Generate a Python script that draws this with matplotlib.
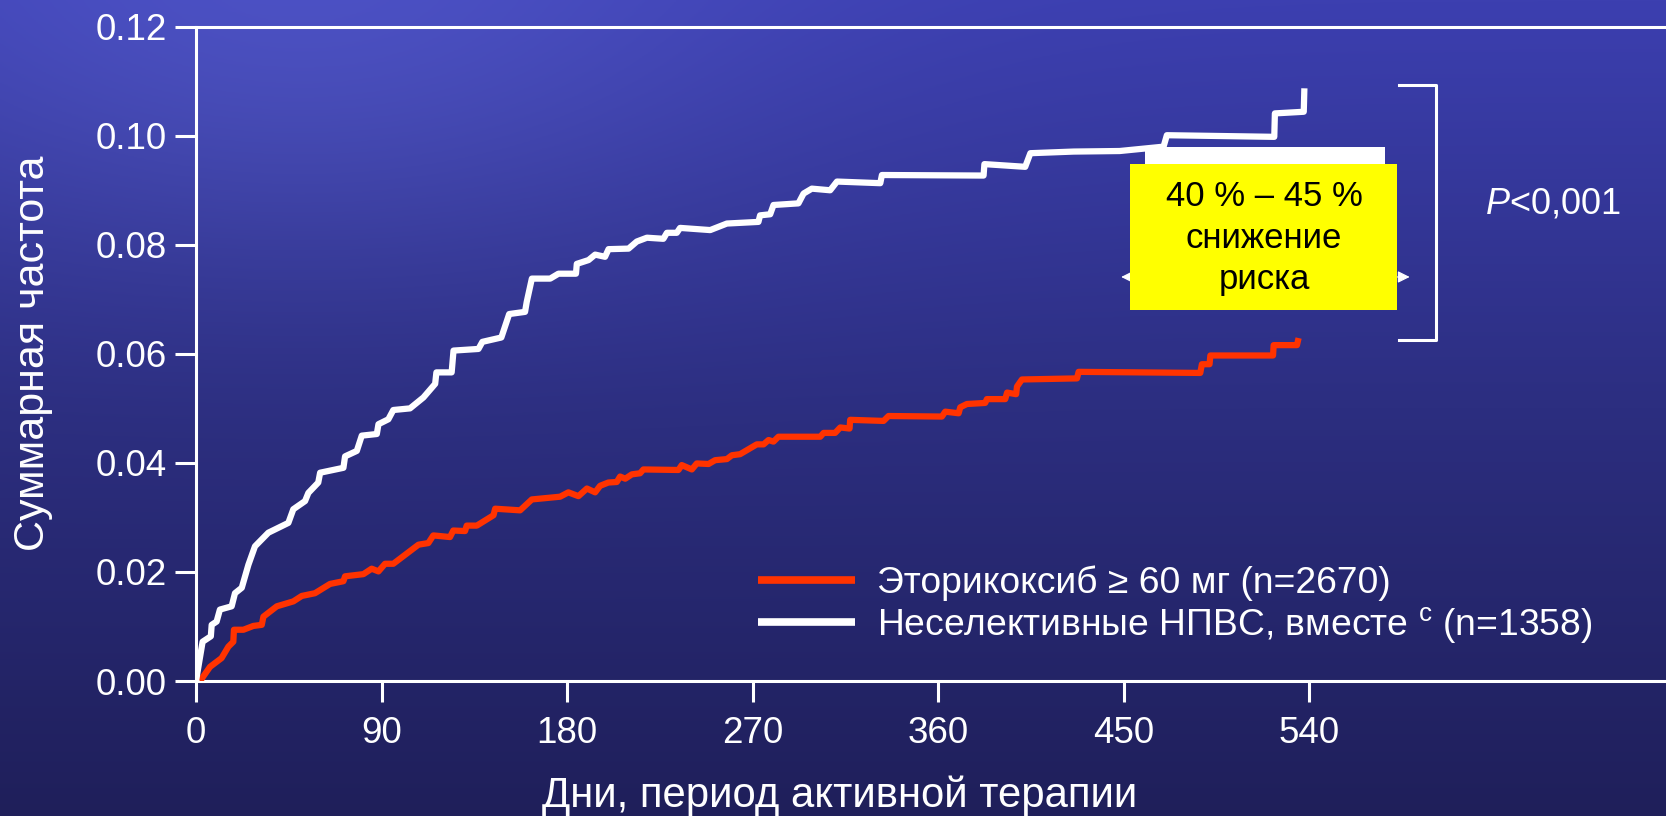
import matplotlib
matplotlib.use("Agg")
import matplotlib.pyplot as plt
import numpy as np
from matplotlib.patches import Rectangle

plt.rcParams.update({
    "font.family": ["Liberation Sans", "DejaVu Sans"],
    "mathtext.fontset": "custom",
    "mathtext.rm": "Liberation Sans",
    "mathtext.it": "Liberation Sans:italic",
    "text.color": "white",
})

# кумулятивная частота событий по дням
white_days = [0, 3.2, 7.2, 7.6, 10.0, 11.6, 17.3, 18.9, 22.2, 25.4, 28.6, 35.1, 44.8,
              47.2, 52.9, 54.5, 59.3, 60.2, 71.5, 72.3, 78.0, 80.4, 87.7, 88.5, 93.3,
              95.7, 103.8, 110.3, 116.0, 116.6, 124.0, 124.9, 137.0, 138.9, 148.1,
              151.9, 159.6, 160.4, 162.9, 171.8, 175.8, 184.3, 184.7, 190.4, 193.6,
              198.4, 200.1, 209.8, 213.8, 218.7, 226.7, 228.4, 233.2, 234.8, 249.4,
              257.5, 272.8, 273.6, 278.5, 280.1, 292.2, 294.7, 298.7, 307.6, 310.9,
              331.9, 332.7, 382.0, 382.4, 402.2, 404.7, 425.7, 448.0, 469.3, 470.9,
              523.0, 523.3, 537.3, 537.6]
white_vals = [0.0, 0.0072, 0.0082, 0.0103, 0.0109, 0.0131, 0.0137, 0.0161, 0.0171,
              0.0213, 0.0247, 0.0272, 0.0290, 0.0315, 0.0330, 0.0345, 0.0364, 0.0382,
              0.0391, 0.0412, 0.0422, 0.0450, 0.0453, 0.0471, 0.0480, 0.0497, 0.0500,
              0.0520, 0.0545, 0.0566, 0.0566, 0.0606, 0.0609, 0.0622, 0.0630, 0.0673,
              0.0677, 0.0695, 0.0738, 0.0738, 0.0747, 0.0747, 0.0765, 0.0772, 0.0782,
              0.0778, 0.0792, 0.0793, 0.0806, 0.0813, 0.0811, 0.0822, 0.0822, 0.0831,
              0.0827, 0.0839, 0.0842, 0.0854, 0.0856, 0.0873, 0.0876, 0.0894, 0.0903,
              0.0900, 0.0916, 0.0913, 0.0928, 0.0927, 0.0948, 0.0943, 0.0968, 0.0971,
              0.0972, 0.0980, 0.1001, 0.0998, 0.1041, 0.1044, 0.1087]

red_days = [2.0, 6.8, 12.4, 15.7, 18.1, 18.4, 23.0, 27.8, 31.9, 32.7, 39.2, 47.2,
            51.3, 57.7, 65.0, 71.5, 72.3, 81.2, 85.2, 88.5, 91.7, 95.7, 107.9, 112.7,
            115.1, 123.2, 124.8, 130.5, 131.3, 136.2, 144.3, 145.1, 157.2, 162.9,
            176.6, 180.6, 185.5, 189.6, 193.6, 196.0, 200.0, 204.1, 205.7, 208.2,
            211.4, 215.4, 217.0, 234.0, 235.6, 240.5, 242.9, 248.6, 251.8, 257.5,
            259.9, 263.9, 272.0, 275.3, 277.7, 280.1, 282.5, 302.8, 304.4, 310.0,
            312.5, 317.0, 317.3, 333.5, 335.9, 361.8, 363.4, 369.9, 370.7, 373.9,
            382.8, 383.6, 392.5, 393.4, 397.8, 398.2, 400.6, 427.3, 428.1, 487.1,
            487.9, 491.6, 492.0, 522.4, 522.7, 534.0, 534.8]
red_vals = [0.0, 0.0026, 0.0042, 0.0063, 0.0072, 0.0094, 0.0094, 0.0101, 0.0103,
            0.0118, 0.0137, 0.0146, 0.0156, 0.0161, 0.0178, 0.0183, 0.0192, 0.0196,
            0.0206, 0.0201, 0.0215, 0.0215, 0.0250, 0.0253, 0.0267, 0.0264, 0.0276,
            0.0275, 0.0285, 0.0285, 0.0304, 0.0316, 0.0313, 0.0333, 0.0338, 0.0346,
            0.0339, 0.0353, 0.0346, 0.0358, 0.0364, 0.0365, 0.0375, 0.0371, 0.0379,
            0.0381, 0.0388, 0.0387, 0.0396, 0.0388, 0.0399, 0.0398, 0.0405, 0.0407,
            0.0414, 0.0416, 0.0434, 0.0434, 0.0442, 0.0439, 0.0448, 0.0448, 0.0455,
            0.0455, 0.0465, 0.0463, 0.0479, 0.0477, 0.0486, 0.0485, 0.0494, 0.0491,
            0.0502, 0.0508, 0.0510, 0.0517, 0.0517, 0.0529, 0.0526, 0.0540, 0.0553,
            0.0555, 0.0567, 0.0565, 0.0581, 0.0581, 0.0597, 0.0597, 0.0616, 0.0616,
            0.0629]

labels = ["Эторикоксиб ≥ 60 мг (n=2670)",
          r"Неселективные НПВС, вместе $^{\mathrm{c}}$ (n=1358)"]
x_ticks = [0, 90, 180, 270, 360, 450, 540]
y_ticks = [0.00, 0.02, 0.04, 0.06, 0.08, 0.10, 0.12]

RED = "#ff3300"

fig = plt.figure(figsize=(16.66, 8.16), dpi=100)

# фон: вертикальный градиент синего, светлее слева вверху
bg = fig.add_axes([0, 0, 1, 1], zorder=-10)
h, w = 408, 833
yy, xx = np.mgrid[0:h, 0:w]
t = (yy / (h - 1))[..., None]
top = np.array([60, 63, 176]) / 255
mid = np.array([44, 46, 128]) / 255
bot = np.array([31, 31, 90]) / 255
img = np.where(t < 0.5, top + (mid - top) * (t / 0.5), mid + (bot - mid) * ((t - 0.5) / 0.5))
glow = np.exp(-(((xx - 150) / 230.0) ** 2 + ((yy - 20) / 120.0) ** 2))[..., None]
img = np.clip(img + glow * np.array([16, 18, 20]) / 255, 0, 1)
bg.imshow(img, aspect="auto", extent=[0, 1, 0, 1])
bg.axis("off")

ax = fig.add_axes([0.11765, 0.16544, 0.88235, 0.80184])
ax.patch.set_visible(False)

ax.plot(red_days, red_vals, color=RED, lw=4.5, solid_joinstyle="round",
        solid_capstyle="butt", label=labels[0], zorder=4)
ax.plot(white_days, white_vals, color="white", lw=4.5, solid_joinstyle="round",
        solid_capstyle="butt", label=labels[1], zorder=4)

ax.set_xlim(0, 713)
ax.set_ylim(0, 0.12)
ax.set_xticks(x_ticks)
ax.set_yticks(y_ticks)
ax.set_yticklabels([f"{v:.2f}" for v in y_ticks])

for side in ["left", "bottom", "top"]:
    ax.spines[side].set_color("white")
    ax.spines[side].set_linewidth(2.2)
ax.spines["right"].set_visible(False)
ax.tick_params(colors="white", labelsize=26.5, length=15, width=2.2, direction="out")
ax.tick_params(axis="y", pad=6)
ax.tick_params(axis="x", pad=10)

# белая плашка, стрелка и жёлтый блок со снижением риска
ax.add_patch(Rectangle((460.5, 0.0945), 116.4, 0.0034, facecolor="white",
                       edgecolor="none", zorder=5))
ax.annotate("", xy=(447.4, 0.0741), xytext=(590, 0.0741),
            arrowprops=dict(arrowstyle="<|-|>", color="white", lw=0.8,
                            mutation_scale=18), zorder=5)
ax.add_patch(Rectangle((453.2, 0.0681), 129.5, 0.0267, facecolor="#ffff00",
                       edgecolor="none", zorder=6))
ax.text(518, 0.0812, "40 % – 45 %\nснижение\nриска", color="black", fontsize=25,
        ha="center", va="center", linespacing=1.32, zorder=7)

# скобка и p-значение
ax.plot([583.7, 601.6, 601.6, 583.7], [0.1093, 0.1093, 0.0626, 0.0626],
        color="white", lw=2.2, clip_on=False, zorder=5)
ax.text(625, 0.0874, r"$P$<0,001", fontsize=26, ha="left", va="center")

leg = ax.legend(loc="upper left", bbox_to_anchor=(0.4548, 0.307),
                bbox_transform=fig.transFigure, frameon=False, fontsize=26.8,
                handlelength=2.62, handletextpad=0.58, labelspacing=0.1,
                borderpad=0, borderaxespad=0)
for line in leg.get_lines():
    line.set_linewidth(5.5)
for txt in leg.get_texts():
    txt.set_color("white")

fig.text(33 / 1666, 1 - 353 / 816, "Суммарная частота", rotation=90, fontsize=31,
         ha="center", va="center")
fig.text(840 / 1666, 1 - 796 / 816, "Дни, период активной терапии", fontsize=30.2,
         ha="center", va="center")

fig.savefig("out.png", dpi=100)
